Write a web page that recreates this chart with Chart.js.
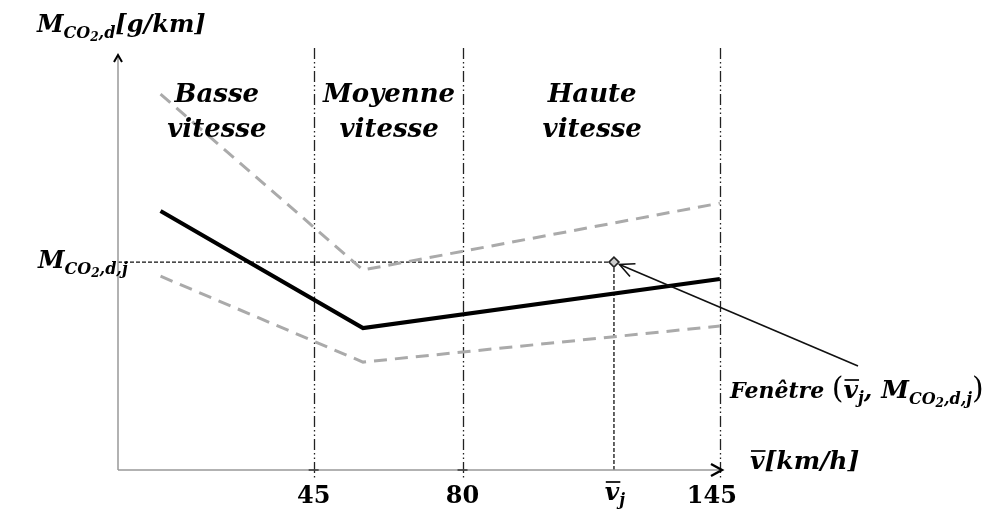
<!DOCTYPE html>
<html>
<head>
<meta charset="utf-8">
<script src="https://cdn.jsdelivr.net/npm/chart.js@4.4.1/dist/chart.umd.min.js"></script>
<style>
html,body{margin:0;padding:0;background:#fff;}
#wrap{width:989px;height:511px;}
</style>
</head>
<body>
<div id="wrap"><canvas id="c" width="989" height="511"></canvas></div>
<script>
// ---- data (schematic units) ----
const segmentX = [9, 56.6, 140.5];          // start, vertex, end of each curve
const meanY   = [62.4, 34.2, 46.0];          // solid black curve
const upperY  = [90.6, 48.2, 64.3];          // upper grey dashed
const lowerY  = [46.7, 26.0, 34.7];          // lower grey dashed
const windowPoint = {x: 115.6, y: 50.1};     // (v̄j, M CO2,d,j)
const dividerX = [45, 80, 140.5];            // zone boundaries
const xTickValues = [45, 80, 115.6, 140.5];
const xTickLabels = ['45', '80', 'v̄j', '145'];
const zoneLabels = [['Basse', 'vitesse'], ['Moyenne', 'vitesse'], ['Haute', 'vitesse']];

const FF = "'DejaVu Serif', serif";
const pts = ys => segmentX.map((x, i) => ({x, y: ys[i]}));

function drawRich(ctx, segs, x, y, align) {
  let total = 0;
  segs.forEach(g => { ctx.font = (g.st || 'italic bold') + ' ' + g.s + 'px ' + FF; g.w = ctx.measureText(g.t).width; total += g.w; });
  let cx = align === 'center' ? x - total / 2 : (align === 'right' ? x - total : x);
  ctx.textBaseline = 'alphabetic';
  ctx.textAlign = 'left';
  segs.forEach(g => {
    ctx.font = (g.st || 'italic bold') + ' ' + g.s + 'px ' + FF;
    ctx.fillText(g.t, cx, y + (g.dy || 0));
    if (g.ov) {
      ctx.save(); ctx.lineWidth = 1.7; ctx.strokeStyle = '#000';
      const top = y + (g.dy || 0) - g.s * 0.72;
      ctx.beginPath(); ctx.moveTo(cx + 1, top); ctx.lineTo(cx + g.w + 1, top); ctx.stroke();
      ctx.restore();
    }
    cx += g.w;
  });
  return total;
}
const M_sub = (big, small, tiny, extra) => [
  {t: 'M', s: big}, {t: 'CO', s: small, dy: 6}, {t: '2', s: tiny, dy: 9}, {t: extra, s: small, dy: 6}
];

const overlay = {
  id: 'overlay',
  beforeDatasetsDraw(chart) {
    const {ctx, scales: {x, y}} = chart;
    const x0 = x.getPixelForValue(x.min), y0 = y.getPixelForValue(0);
    const xEnd = x.getPixelForValue(x.max), yTop = y.getPixelForValue(y.max);
    ctx.save();
    ctx.strokeStyle = '#222'; ctx.lineWidth = 1.3;
    ctx.setLineDash([11, 3, 1.5, 3, 1.5, 3]);
    dividerX.forEach(v => {
      const px = Math.round(x.getPixelForValue(v)) + 0.5;
      ctx.beginPath(); ctx.moveTo(px, yTop - 7); ctx.lineTo(px, y0 + 8); ctx.stroke();
    });
    const wx = x.getPixelForValue(windowPoint.x), wy = y.getPixelForValue(windowPoint.y);
    ctx.setLineDash([4, 2]); ctx.lineWidth = 1.3; ctx.strokeStyle = '#111';
    ctx.beginPath(); ctx.moveTo(x0, wy); ctx.lineTo(wx, wy); ctx.stroke();
    ctx.beginPath(); ctx.moveTo(wx, wy); ctx.lineTo(wx, y0); ctx.stroke();
    ctx.setLineDash([]);
    ctx.strokeStyle = '#999'; ctx.lineWidth = 1.5;
    ctx.beginPath(); ctx.moveTo(x0, y0); ctx.lineTo(x0, yTop); ctx.stroke();
    ctx.beginPath(); ctx.moveTo(x0, y0); ctx.lineTo(xEnd, y0); ctx.stroke();
    ctx.strokeStyle = '#000'; ctx.lineWidth = 2;
    ctx.beginPath(); ctx.moveTo(x0 - 4, yTop + 7); ctx.lineTo(x0, yTop); ctx.lineTo(x0 + 4, yTop + 7); ctx.stroke();
    ctx.lineWidth = 2.4;
    ctx.beginPath(); ctx.moveTo(xEnd - 11, y0 - 6); ctx.lineTo(xEnd, y0); ctx.lineTo(xEnd - 11, y0 + 6); ctx.stroke();
    ctx.lineWidth = 1.3; ctx.strokeStyle = '#222';
    [45, 80].forEach(v => { const px = x.getPixelForValue(v); ctx.beginPath(); ctx.moveTo(px - 5, y0); ctx.lineTo(px + 5, y0); ctx.stroke(); });
    ctx.restore();
  },
  afterDatasetsDraw(chart) {
    const {ctx, scales: {x, y}} = chart;
    ctx.save();
    ctx.fillStyle = '#000';
    const bounds = [x.min, ...dividerX];
    zoneLabels.forEach((lines, i) => {
      const cx = (x.getPixelForValue(bounds[i]) + x.getPixelForValue(bounds[i + 1])) / 2 + 1;
      lines.forEach((t, j) => drawRich(ctx, [{t, s: 26}], cx, 102 + j * 35, 'center'));
    });
    xTickValues.forEach((v, i) => {
      let px = x.getPixelForValue(v);
      const lab = xTickLabels[i];
      if (lab === 'v̄j') {
        drawRich(ctx, [{t: 'v', s: 25, ov: true}, {t: 'j', s: 16, dy: 5}], px + 1, 500, 'center');
      } else {
        if (i === xTickLabels.length - 1) px -= 8;
        drawRich(ctx, [{t: lab, s: 24, st: 'bold'}], px, 503, 'center');
      }
    });
    drawRich(ctx, [...M_sub(24, 16, 12, ',d'), {t: '[g/km]', s: 24}], 37, 32, 'left');
    drawRich(ctx, M_sub(24, 16, 12, ',d,j'), 38, 268, 'left');
    drawRich(ctx, [{t: 'v', s: 25, ov: true}, {t: '[km/h]', s: 25}], 750, 469, 'left');
    drawRich(ctx, [{t: 'Fenêtre ', s: 22}, {t: '(', s: 30, st: 'normal'}, {t: 'v', s: 25, ov: true}, {t: 'j', s: 16, dy: 5},
      {t: ', ', s: 25}, ...M_sub(25, 16, 12, ',d,j'), {t: ')', s: 30, st: 'normal'}], 730, 398, 'left');
    const wx = x.getPixelForValue(windowPoint.x), wy = y.getPixelForValue(windowPoint.y);
    const sx = 858, sy = 366;
    const ang = Math.atan2(sy - wy, sx - wx);
    const ex = wx + 6 * Math.cos(ang), ey = wy + 6 * Math.sin(ang);
    ctx.strokeStyle = '#111'; ctx.lineWidth = 1.6;
    ctx.beginPath(); ctx.moveTo(sx, sy); ctx.lineTo(ex, ey); ctx.stroke();
    const L = 16;
    ctx.beginPath();
    ctx.moveTo(ex + L * Math.cos(ang - 0.45), ey + L * Math.sin(ang - 0.45));
    ctx.lineTo(ex, ey);
    ctx.lineTo(ex + L * Math.cos(ang + 0.45), ey + L * Math.sin(ang + 0.45));
    ctx.stroke();
    ctx.restore();
  }
};

new Chart(document.getElementById('c'), {
  type: 'line',
  data: {
    datasets: [
      {data: pts(upperY), borderColor: '#aaaaaa', borderWidth: 3, borderDash: [13, 8], pointRadius: 0, tension: 0},
      {data: pts(lowerY), borderColor: '#aaaaaa', borderWidth: 3, borderDash: [13, 8], pointRadius: 0, tension: 0},
      {data: pts(meanY), borderColor: '#000000', borderWidth: 4, pointRadius: 0, tension: 0, borderCapStyle: 'butt'},
      {data: [windowPoint], showLine: false, pointStyle: 'rectRot', pointRadius: 5, pointBorderWidth: 1.6,
       pointBorderColor: '#222', pointBackgroundColor: '#ccc'}
    ]
  },
  options: {
    responsive: false,
    animation: false,
    layout: {padding: {left: 118, right: 267, top: 55, bottom: 41}},
    plugins: {legend: {display: false}, tooltip: {enabled: false}},
    scales: {
      x: {type: 'linear', min: -1, max: 141, display: false},
      y: {type: 'linear', min: 0, max: 100, display: false}
    }
  },
  plugins: [overlay]
});
</script>
</body>
</html>
